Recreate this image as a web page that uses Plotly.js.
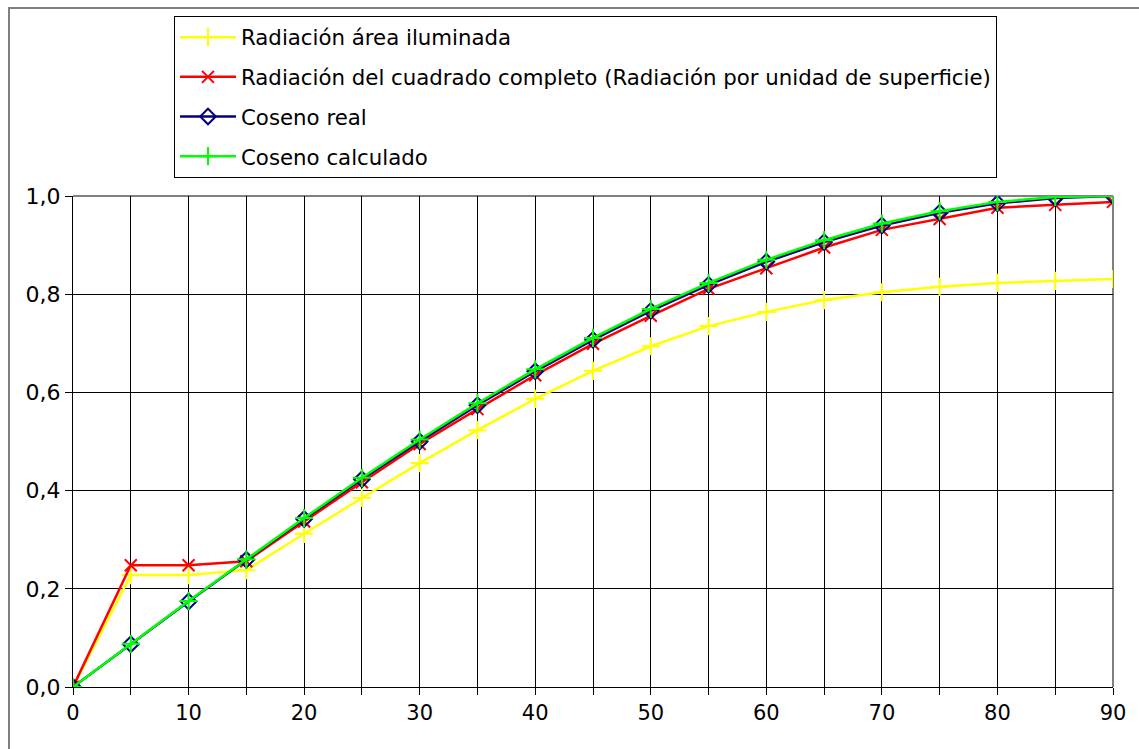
<!DOCTYPE html>
<html>
<head>
<meta charset="utf-8">
<script src="https://cdn.plot.ly/plotly-3.0.1.min.js"></script>
<style>
html,body{margin:0;padding:0;background:#fff;overflow:hidden;width:1139px;height:749px;}
#frame{position:absolute;left:8px;top:7px;width:1300px;height:900px;border-left:2px solid #808080;border-top:2px solid #808080;box-sizing:border-box;}
#chart{position:absolute;left:8px;top:-43px;width:1200px;height:850px;}
</style>
</head>
<body>
<div id="frame"></div>
<div id="chart"></div>
<script>
const angles = [0,5,10,15,20,25,30,35,40,45,50,55,60,65,70,75,80,85,90];
const radArea = [0,0.228,0.228,0.238,0.312,0.385,0.456,0.523,0.587,0.644,0.694,0.735,0.764,0.788,0.804,0.815,0.823,0.827,0.831];
const radCuadrado = [0,0.248,0.248,0.256,0.337,0.417,0.495,0.566,0.635,0.699,0.756,0.811,0.853,0.895,0.931,0.953,0.976,0.982,0.988];
const cosReal = [0,0.087,0.174,0.259,0.342,0.423,0.500,0.574,0.643,0.707,0.766,0.819,0.866,0.906,0.940,0.966,0.985,0.996,1.000];
const cosCalc = [0,0.088,0.175,0.260,0.344,0.426,0.504,0.578,0.647,0.711,0.770,0.823,0.870,0.910,0.944,0.969,0.988,0.998,1.000];
const names = ["Radiación área iluminada","Radiación del cuadrado completo (Radiación por unidad de superficie)","Coseno real","Coseno calculado"];

const traces = [
  {x:angles,y:radArea,name:names[0],legendgroup:'a',mode:'lines+markers',line:{color:'#ffff00',width:2.5},marker:{symbol:'cross-thin-open',size:13,line:{color:'#ffff00',width:2}}},
  {x:angles,y:radCuadrado,name:names[1],legendgroup:'b',mode:'lines+markers',line:{color:'#ff0000',width:2.5},marker:{symbol:'x-thin-open',size:12,line:{color:'#ff0000',width:2}}},
  {x:angles,y:cosReal,name:names[2],legendgroup:'c',mode:'lines+markers',line:{color:'#000080',width:2.5},marker:{symbol:'diamond-open',size:12,color:'#000080',line:{color:'#000080',width:2}}},
  {x:angles,y:cosCalc,name:names[3],legendgroup:'d',mode:'lines+markers',line:{color:'#00ff00',width:2.5},marker:{symbol:'cross-thin-open',size:13,line:{color:'#00ff00',width:2}}}
];

const layout = {
  width:1200,height:850,
  margin:{l:65,r:95,t:239,b:120,pad:0},
  paper_bgcolor:'rgba(0,0,0,0)',plot_bgcolor:'#ffffff',
  separators:',.',
  font:{family:'DejaVu Sans, Verdana, sans-serif',size:21,color:'#000'},
  showlegend:true,
  legend:{x:0.0971,y:1.367,xanchor:'left',yanchor:'top',bgcolor:'#ffffff',bordercolor:'#000000',borderwidth:1,itemwidth:56,
          font:{family:'DejaVu Sans, Verdana, sans-serif',size:21.3,color:'#000'},traceorder:'grouped',tracegroupgap:9},
  xaxis:{range:[0,90],tickmode:'linear',tick0:0,dtick:10,showgrid:true,gridcolor:'#000',gridwidth:1,zeroline:false,
         showline:true,linecolor:'#000',linewidth:1,ticks:'outside',ticklen:7,tickcolor:'#000',
         tickfont:{size:21},fixedrange:true,
         minor:{tickmode:'linear',tick0:0,dtick:5,ticks:'outside',ticklen:7,tickcolor:'#000',showgrid:true,gridcolor:'#000',gridwidth:1}},
  yaxis:{range:[0,1],tickmode:'linear',tick0:0,dtick:0.2,tickformat:'.1f',showgrid:true,gridcolor:'#000',gridwidth:1,zeroline:false,
         showline:true,linecolor:'#000',linewidth:1,ticks:'outside',ticklen:7,tickcolor:'#000',
         tickfont:{size:22},fixedrange:true},
  shapes:[
    {type:'line',xref:'paper',yref:'paper',x0:0,x1:1,y0:1,y1:1,line:{color:'#808080',width:2},layer:'below'},
    {type:'line',xref:'paper',yref:'paper',x0:1,x1:1,y0:0,y1:1,line:{color:'#808080',width:2},layer:'below'}
  ]
};

Plotly.newPlot('chart',traces,layout,{displayModeBar:false,staticPlot:true});
</script>
</body>
</html>
